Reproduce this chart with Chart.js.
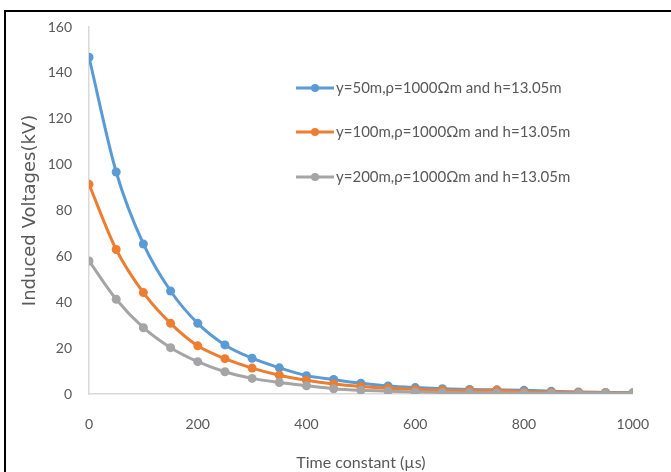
<!DOCTYPE html>
<html>
<head>
<meta charset="utf-8">
<script src="https://cdn.jsdelivr.net/npm/chart.js@4"></script>
<style>
    body { margin: 0; background: #fff; }
    #wrap { position: relative; width: 671px; height: 472px; }
    #frame {
        position: absolute; left: 4px; top: 10px; right: 0; bottom: 0;
        border-top: 2px solid #000; border-left: 2px solid #000;
        pointer-events: none;
    }
</style>
</head>
<body>
<div id="wrap">
    <canvas id="chart" width="671" height="472"></canvas>
    <div id="frame"></div>
</div>
<script>
// time constant in microseconds
const timeConstants = [0, 50, 100, 150, 200, 250, 300, 350, 400, 450, 500,
    550, 600, 650, 700, 750, 800, 850, 900, 950, 1000];

// induced voltages (kV)
const y50Values = [146.8, 96.8, 65.4, 44.9, 30.8, 21.4, 15.6, 11.4, 8.0, 6.3, 4.7,
    3.5, 2.8, 2.3, 2.0, 1.8, 1.6, 1.2, 0.9, 0.7, 0.5];
const y100Values = [91.4, 63.0, 44.2, 30.8, 21.0, 15.4, 11.3, 8.2, 6.0, 4.4, 3.3,
    2.5, 2.0, 1.7, 1.5, 1.6, 1.0, 0.8, 0.6, 0.5, 0.4];
const y200Values = [58.0, 41.3, 28.9, 20.2, 14.1, 9.7, 6.8, 5.0, 3.6, 2.3, 1.6,
    1.2, 0.9, 0.7, 0.5, 0.5, 0.4, 0.3, 0.3, 0.3, 0.3];

const seriesLabels = [
    'y=50m,ρ=1000Ωm and h=13.05m',
    'y=100m,ρ=1000Ωm and h=13.05m',
    'y=200m,ρ=1000Ωm and h=13.05m'
];
const seriesColors = ['#5B9BD5', '#ED7D31', '#A5A5A5'];

const textColor = '#595959';
const tickFont = { family: 'Lato', size: 14 };

function toPoints(values) {
    return values.map((v, i) => ({ x: timeConstants[i], y: v }));
}

// legend drawn inside the plot area, like the original
const insideLegend = {
    id: 'insideLegend',
    afterDatasetsDraw(chart) {
        const ctx = chart.ctx;
        const rows = [88, 132, 177];
        ctx.save();
        chart.data.datasets.forEach((ds, i) => {
            let y = rows[i];
            ctx.strokeStyle = ds.borderColor;
            ctx.lineWidth = 3;
            ctx.beginPath();
            ctx.moveTo(296, y);
            ctx.lineTo(334, y);
            ctx.stroke();
            ctx.fillStyle = ds.borderColor;
            ctx.beginPath();
            ctx.arc(315, y, 4, 0, Math.PI * 2);
            ctx.fill();
            ctx.fillStyle = textColor;
            ctx.font = '15px Lato';
            ctx.textBaseline = 'middle';
            ctx.fillText(ds.label, 336, y);
        });
        ctx.restore();
    }
};

const ctx = document.getElementById('chart').getContext('2d');
const chart = new Chart(ctx, {
    type: 'line',
    data: {
        datasets: [
            { label: seriesLabels[0], data: toPoints(y50Values), order: 3 },
            { label: seriesLabels[1], data: toPoints(y100Values), order: 2 },
            { label: seriesLabels[2], data: toPoints(y200Values), order: 1 }
        ].map((ds, i) => Object.assign(ds, {
            borderColor: seriesColors[i],
            backgroundColor: seriesColors[i],
            borderWidth: 3,
            pointRadius: 4.5,
            pointBorderWidth: 0,
            cubicInterpolationMode: 'monotone',
            fill: false
        }))
    },
    options: {
        responsive: false,
        animation: false,
        layout: { padding: { left: 0, right: 17, top: 27, bottom: 0 } },
        plugins: {
            legend: { display: false },
            tooltip: { enabled: false }
        },
        scales: {
            x: {
                type: 'linear',
                min: 0,
                max: 1000,
                grid: { display: false, drawTicks: false },
                border: { color: '#D9D9D9', width: 1.5 },
                ticks: {
                    stepSize: 200, color: textColor, font: tickFont, padding: 22,
                    callback: (v) => String(v)
                },
                title: {
                    display: true,
                    text: 'Time constant (µs)',
                    color: textColor,
                    font: { family: 'Lato', size: 16 },
                    padding: { top: 12, bottom: 0 }
                },
                afterFit: (scale) => { scale.height = 78; }
            },
            y: {
                min: 0,
                max: 160,
                grid: { display: false, drawTicks: false },
                border: { color: '#D9D9D9', width: 1.5 },
                ticks: { stepSize: 20, color: textColor, font: tickFont, padding: 17 },
                title: {
                    display: true,
                    text: 'Induced Voltages(kV)',
                    color: textColor,
                    font: { family: 'DejaVu Sans', size: 18 },
                    padding: { top: 20, bottom: 0 }
                },
                afterFit: (scale) => { scale.width = 89; }
            }
        }
    },
    plugins: [insideLegend]
});
</script>
</body>
</html>
